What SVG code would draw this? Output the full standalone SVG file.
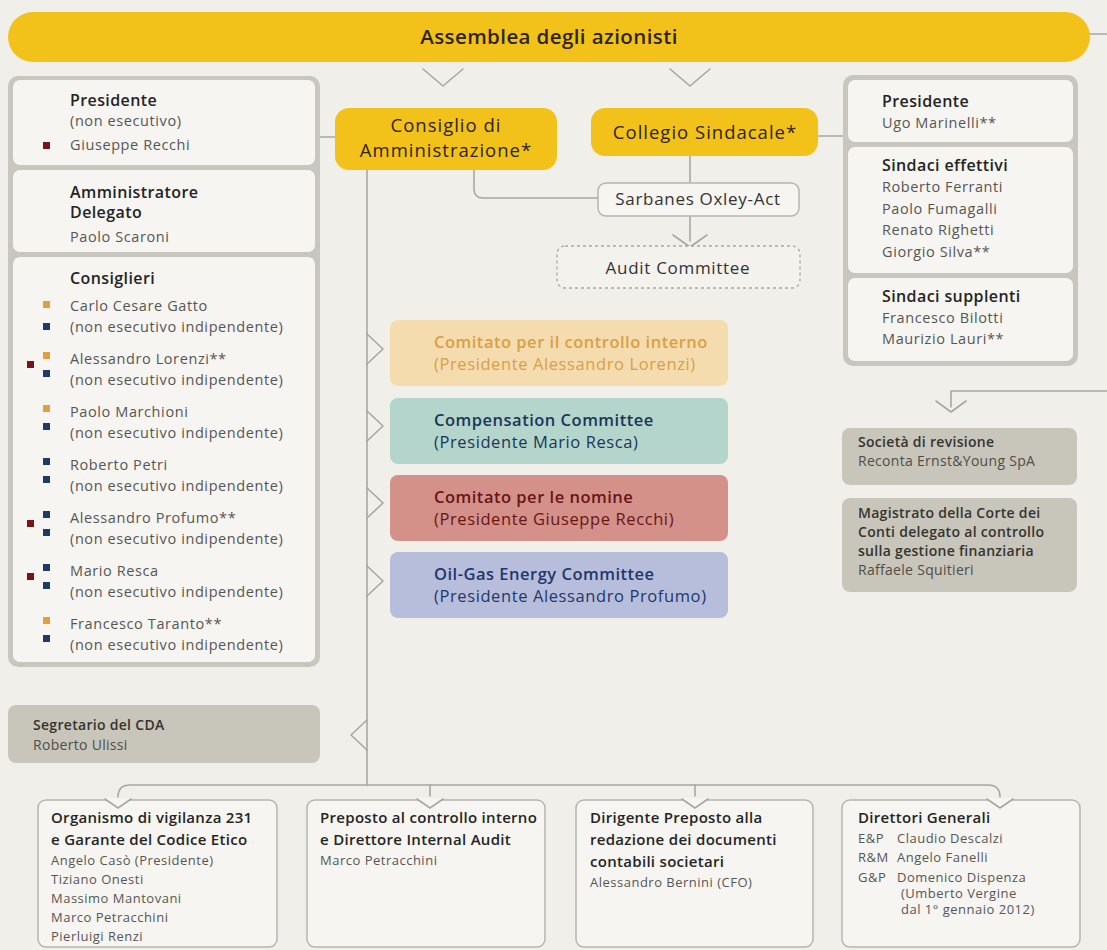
<svg xmlns="http://www.w3.org/2000/svg" width="1107" height="950" viewBox="0 0 1107 950">
<style>
text{font-family:'Open Sans','Noto Sans','DejaVu Sans',sans-serif}
.bg{fill:#f1efe9}
.frame{fill:#c8c6bf}
.cell{fill:#f6f5f1}
.yel{fill:#f2c21b}
.gbox{fill:#c8c5bb}
.wbox{fill:#f6f5f1;stroke:#b7b5ae;stroke-width:1.5}
.dbox{fill:#f3f2ed;stroke:#aaa8a2;stroke-width:1.3;stroke-dasharray:3 3}
.ln{fill:none;stroke:#a9a7a1;stroke-width:1.6;stroke-linecap:round;stroke-linejoin:round}
.notch{fill:#f6f5f1}
.h{font-size:16px;font-weight:600;fill:#242424;letter-spacing:0.4px}
.n{font-size:14.5px;font-weight:400;fill:#565656;letter-spacing:0.6px}
.big{font-size:18.5px;font-weight:500;fill:#2e250c;letter-spacing:1px;text-anchor:middle}
.top{font-size:20.5px;font-weight:600;fill:#2e250c;letter-spacing:0.4px;text-anchor:middle}
.mid{font-size:17px;font-weight:500;fill:#333;letter-spacing:0.7px;text-anchor:middle}
.c1{font-size:16.5px;font-weight:600;letter-spacing:0.5px}
.c2{font-size:16.5px;font-weight:400;letter-spacing:0.6px}
.gh{font-size:14px;font-weight:600;fill:#35342f;letter-spacing:0.3px}
.gn{font-size:14px;font-weight:400;fill:#4f4e49;letter-spacing:0.3px}
.bh{font-size:15px;font-weight:600;fill:#242424;letter-spacing:0.3px}
.bn{font-size:13px;font-weight:400;fill:#565656;letter-spacing:0.5px}
.sr{fill:#7a1418}.so{fill:#e0a040}.sb{fill:#1e3a6a}
</style>
<rect class="bg" x="0" y="0" width="1107" height="950"/>

<g id="connectors">
<path class="ln" d="M1088,34 H1107"/>
<path class="ln" d="M423,69 L443,86 L463,69"/>
<path class="ln" d="M670,69 L690,86 L710,69"/>
<path class="ln" d="M320,137 H335"/>
<path class="ln" d="M818,136 H843"/>
<path class="ln" d="M474,170 V189 Q474,198 483,198 H598"/>
<path class="ln" d="M690,156 V183"/>
<path class="ln" d="M690,216 V241"/>
<path class="ln" d="M673,235 L690,247 L707,235"/>
<path class="ln" d="M367,170 V785"/>
<path class="ln" d="M367,334 L383,349 L367,364"/>
<path class="ln" d="M367,411 L383,426 L367,441"/>
<path class="ln" d="M367,488 L383,503 L367,518"/>
<path class="ln" d="M367,566 L383,581 L367,596"/>
<path class="ln" d="M367,720 L351,735 L367,750"/>
<path class="ln" d="M118,797 Q118,785 130,785 H988 Q1000,785 1000,797"/>
<path class="ln" d="M430,785 V796"/>
<path class="ln" d="M695,785 V796"/>
<path class="ln" d="M1107,391 H951 V407"/>
<path class="ln" d="M936,401 L951,412 L966,401"/>
</g>

<g id="assemblea">
<rect class="yel" x="8" y="12" width="1082" height="50" rx="25"/>
<text class="top" x="549" y="44">Assemblea degli azionisti</text>
</g>

<g id="board-members">
<rect class="frame" x="8" y="76" width="312" height="591" rx="10"/>
<rect class="cell" x="13" y="80" width="302" height="85" rx="7"/>
<rect class="cell" x="13" y="170" width="302" height="82" rx="7"/>
<rect class="cell" x="13" y="257" width="302" height="405" rx="7"/>
<text class="h" x="70" y="106">Presidente</text>
<text class="n" x="70" y="126">(non esecutivo)</text>
<rect class="sr" x="43" y="142" width="7" height="7"/>
<text class="n" x="70" y="150">Giuseppe Recchi</text>
<text class="h" x="70" y="198">Amministratore</text>
<text class="h" x="70" y="218">Delegato</text>
<text class="n" x="70" y="242">Paolo Scaroni</text>
<text class="h" x="70" y="284">Consiglieri</text>

<rect class="so" x="43" y="301" width="7" height="7"/>
<rect class="sb" x="43" y="323" width="7" height="7"/>
<text class="n" x="70" y="311">Carlo Cesare Gatto</text>
<text class="n" x="70" y="332">(non esecutivo indipendente)</text>

<rect class="so" x="43" y="352" width="7" height="7"/>
<rect class="sr" x="27" y="361" width="7" height="7"/>
<rect class="sb" x="43" y="370" width="7" height="7"/>
<text class="n" x="70" y="364">Alessandro Lorenzi**</text>
<text class="n" x="70" y="385">(non esecutivo indipendente)</text>

<rect class="so" x="43" y="405" width="7" height="7"/>
<rect class="sb" x="43" y="423" width="7" height="7"/>
<text class="n" x="70" y="417">Paolo Marchioni</text>
<text class="n" x="70" y="438">(non esecutivo indipendente)</text>

<rect class="sb" x="43" y="458" width="7" height="7"/>
<rect class="sb" x="43" y="476" width="7" height="7"/>
<text class="n" x="70" y="470">Roberto Petri</text>
<text class="n" x="70" y="491">(non esecutivo indipendente)</text>

<rect class="sb" x="43" y="511" width="7" height="7"/>
<rect class="sr" x="27" y="520" width="7" height="7"/>
<rect class="sb" x="43" y="529" width="7" height="7"/>
<text class="n" x="70" y="523">Alessandro Profumo**</text>
<text class="n" x="70" y="544">(non esecutivo indipendente)</text>

<rect class="sb" x="43" y="564" width="7" height="7"/>
<rect class="sr" x="27" y="573" width="7" height="7"/>
<rect class="sb" x="43" y="582" width="7" height="7"/>
<text class="n" x="70" y="576">Mario Resca</text>
<text class="n" x="70" y="597">(non esecutivo indipendente)</text>

<rect class="so" x="43" y="617" width="7" height="7"/>
<rect class="sb" x="43" y="635" width="7" height="7"/>
<text class="n" x="70" y="629">Francesco Taranto**</text>
<text class="n" x="70" y="650">(non esecutivo indipendente)</text>
</g>

<g id="consiglio">
<rect class="yel" x="335" y="108" width="222" height="62" rx="14"/>
<text class="big" x="446" y="132">Consiglio di</text>
<text class="big" x="446" y="157">Amministrazione*</text>
</g>

<g id="collegio">
<rect class="yel" x="591" y="108" width="227" height="48" rx="14"/>
<text class="big" x="705" y="139">Collegio Sindacale*</text>
</g>

<g id="sarbanes">
<rect class="wbox" x="598" y="183" width="201" height="33" rx="8"/>
<text class="mid" x="698" y="205">Sarbanes Oxley-Act</text>
</g>

<g id="audit-committee">
<rect class="dbox" x="557" y="246" width="243" height="42" rx="8"/>
<text class="mid" x="678" y="274">Audit Committee</text>
</g>

<g id="collegio-members">
<rect class="frame" x="843" y="75" width="235" height="291" rx="10"/>
<rect class="cell" x="848" y="80" width="225" height="62" rx="7"/>
<rect class="cell" x="848" y="147" width="225" height="126" rx="7"/>
<rect class="cell" x="848" y="278" width="225" height="83" rx="7"/>
<text class="h" x="882" y="107">Presidente</text>
<text class="n" x="882" y="128">Ugo Marinelli**</text>
<text class="h" x="882" y="171">Sindaci effettivi</text>
<text class="n" x="882" y="192">Roberto Ferranti</text>
<text class="n" x="882" y="214">Paolo Fumagalli</text>
<text class="n" x="882" y="235">Renato Righetti</text>
<text class="n" x="882" y="257">Giorgio Silva**</text>
<text class="h" x="882" y="302">Sindaci supplenti</text>
<text class="n" x="882" y="323">Francesco Bilotti</text>
<text class="n" x="882" y="344">Maurizio Lauri**</text>
</g>

<g id="comitato-controllo">
<rect x="390" y="320" width="338" height="66" rx="8" fill="#f5dcaf"/>
<text class="c1" x="434" y="348" fill="#d99f45">Comitato per il controllo interno</text>
<text class="c2" x="434" y="370" fill="#d99f45">(Presidente Alessandro Lorenzi)</text>
</g>
<g id="compensation">
<rect x="390" y="398" width="338" height="66" rx="8" fill="#b3d5cb"/>
<text class="c1" x="434" y="426" fill="#1d3557">Compensation Committee</text>
<text class="c2" x="434" y="448" fill="#1d3557">(Presidente Mario Resca)</text>
</g>
<g id="nomine">
<rect x="390" y="475" width="338" height="66" rx="8" fill="#d4918a"/>
<text class="c1" x="434" y="503" fill="#6a1414">Comitato per le nomine</text>
<text class="c2" x="434" y="525" fill="#6a1414">(Presidente Giuseppe Recchi)</text>
</g>
<g id="oil-gas">
<rect x="390" y="552" width="338" height="66" rx="8" fill="#b7bedc"/>
<text class="c1" x="434" y="580" fill="#22376a">Oil-Gas Energy Committee</text>
<text class="c2" x="434" y="602" fill="#22376a">(Presidente Alessandro Profumo)</text>
</g>

<g id="societa-revisione">
<rect class="gbox" x="842" y="428" width="235" height="57" rx="8"/>
<text class="gh" x="858" y="447">Società di revisione</text>
<text class="gn" x="858" y="466">Reconta Ernst&amp;Young SpA</text>
</g>
<g id="magistrato">
<rect class="gbox" x="842" y="498" width="235" height="94" rx="8"/>
<text class="gh" x="858" y="518">Magistrato della Corte dei</text>
<text class="gh" x="858" y="537">Conti delegato al controllo</text>
<text class="gh" x="858" y="556">sulla gestione finanziaria</text>
<text class="gn" x="858" y="575">Raffaele Squitieri</text>
</g>

<g id="segretario">
<rect class="gbox" x="8" y="705" width="312" height="58" rx="8"/>
<text class="gh" x="33" y="730">Segretario del CDA</text>
<text class="gn" x="33" y="750">Roberto Ulissi</text>
</g>

<g id="organismo-vigilanza">
<rect class="wbox" x="38" y="800" width="239" height="147" rx="8"/>
<text class="bh" x="51" y="823">Organismo di vigilanza 231</text>
<text class="bh" x="51" y="845">e Garante del Codice Etico</text>
<text class="bn" x="51" y="865">Angelo Casò (Presidente)</text>
<text class="bn" x="51" y="884">Tiziano Onesti</text>
<text class="bn" x="51" y="903">Massimo Mantovani</text>
<text class="bn" x="51" y="922">Marco Petracchini</text>
<text class="bn" x="51" y="941">Pierluigi Renzi</text>
</g>
<g id="preposto-controllo">
<rect class="wbox" x="307" y="800" width="238" height="147" rx="8"/>
<text class="bh" x="320" y="823">Preposto al controllo interno</text>
<text class="bh" x="320" y="845">e Direttore Internal Audit</text>
<text class="bn" x="320" y="865">Marco Petracchini</text>
</g>
<g id="dirigente-preposto">
<rect class="wbox" x="576" y="800" width="237" height="147" rx="8"/>
<text class="bh" x="590" y="823">Dirigente Preposto alla</text>
<text class="bh" x="590" y="845">redazione dei documenti</text>
<text class="bh" x="590" y="867">contabili societari</text>
<text class="bn" x="590" y="887">Alessandro Bernini (CFO)</text>
</g>
<g id="direttori-generali">
<rect class="wbox" x="842" y="800" width="238" height="147" rx="8"/>
<text class="bh" x="858" y="823">Direttori Generali</text>
<text class="bn" x="858" y="843">E&amp;P</text><text class="bn" x="897" y="843">Claudio Descalzi</text>
<text class="bn" x="858" y="862">R&amp;M</text><text class="bn" x="897" y="862">Angelo Fanelli</text>
<text class="bn" x="858" y="882">G&amp;P</text><text class="bn" x="897" y="882">Domenico Dispenza</text>
<text class="bn" x="901" y="898">(Umberto Vergine</text>
<text class="bn" x="901" y="914">dal 1° gennaio 2012)</text>
</g>

<g id="bottom-chevrons">
<rect class="notch" x="106" y="798" width="24" height="4"/>
<rect class="notch" x="418" y="798" width="24" height="4"/>
<rect class="notch" x="683" y="798" width="24" height="4"/>
<rect class="notch" x="988" y="798" width="24" height="4"/>
<path class="ln" d="M105,799 L118,808 L131,799"/>
<path class="ln" d="M417,799 L430,808 L443,799"/>
<path class="ln" d="M682,799 L695,808 L708,799"/>
<path class="ln" d="M987,799 L1000,808 L1013,799"/>
</g>
</svg>
